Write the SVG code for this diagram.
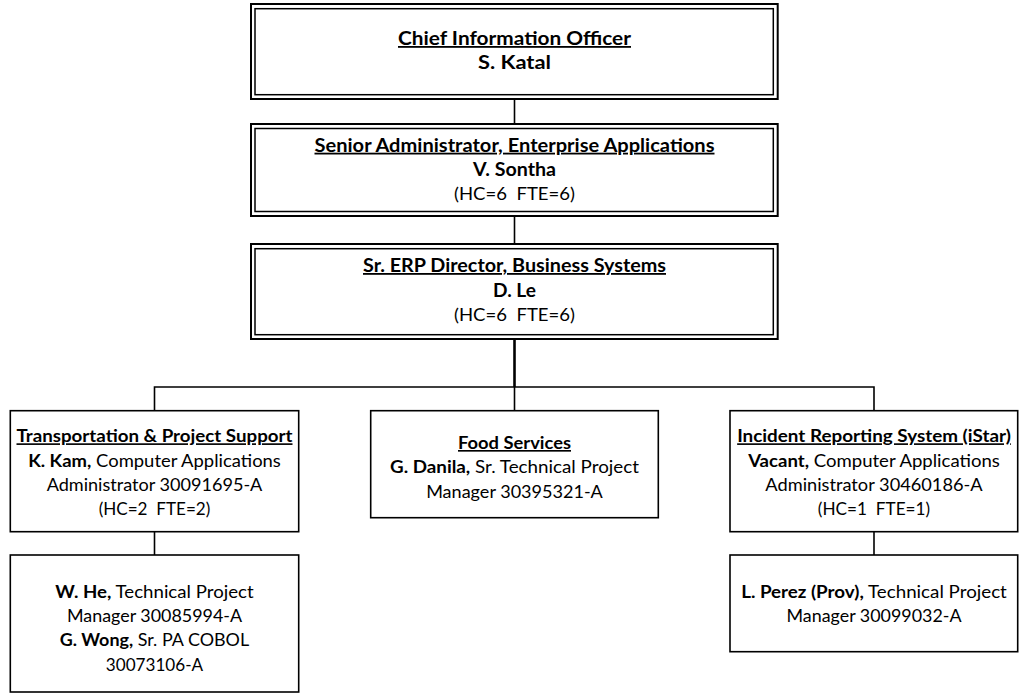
<svg xmlns="http://www.w3.org/2000/svg" width="1019" height="699" viewBox="0 0 1019 699">
<style>
.bg{fill:#ffffff}
.outer{fill:#ffffff;stroke:#000;stroke-width:2}
.inner{fill:none;stroke:#000;stroke-width:1.5}
.box{fill:#ffffff;stroke:#000;stroke-width:1.6}
.conn{fill:none;stroke:#000;stroke-width:1.6}
.thick{fill:none;stroke:#000;stroke-width:2.6}
text{font-family:Lato,"Liberation Sans",sans-serif;fill:#000;text-anchor:middle;white-space:pre}
.t1{font-size:18px}
.t2{font-size:16.5px}
.b{font-weight:bold}
.u{text-decoration:underline}
</style>
<rect class="bg" x="0" y="0" width="1019" height="699"/>
<g id="connectors">
<path class="conn" d="M514.5 99 V124"/>
<path class="conn" d="M514.5 216 V244"/>
<path class="thick" d="M514.5 339 V387"/>
<path class="conn" d="M154.5 410.7 V387 H874 V410.7"/>
<path class="conn" d="M514.5 387 V410.7"/>
<path class="conn" d="M154.5 531.7 V555"/>
<path class="conn" d="M874 531.7 V555"/>
</g>
<g id="cio">
<rect class="outer" x="251" y="4" width="526.7" height="95"/>
<rect class="inner" x="255" y="8.7" width="518.3" height="86"/>
<text class="t1 b u" x="514.5" y="45" textLength="233" lengthAdjust="spacingAndGlyphs">Chief Information Officer</text>
<text class="t1 b" x="514.5" y="69.3" textLength="73" lengthAdjust="spacingAndGlyphs">S. Katal</text>
</g>
<g id="senior-admin">
<rect class="outer" x="251" y="124" width="526.7" height="92"/>
<rect class="inner" x="255" y="128.5" width="518.3" height="83"/>
<text class="t1 b u" x="514.5" y="151.7" textLength="400" lengthAdjust="spacingAndGlyphs">Senior Administrator, Enterprise Applications</text>
<text class="t1 b" x="514.5" y="176" textLength="83" lengthAdjust="spacingAndGlyphs">V. Sontha</text>
<text class="t1" x="514.5" y="200.3" textLength="121" lengthAdjust="spacingAndGlyphs">(HC=6  FTE=6)</text>
</g>
<g id="erp-director">
<rect class="outer" x="251" y="244" width="526.7" height="95"/>
<rect class="inner" x="255" y="248.7" width="518.3" height="86"/>
<text class="t1 b u" x="514.5" y="272" textLength="303" lengthAdjust="spacingAndGlyphs">Sr. ERP Director, Business Systems</text>
<text class="t1 b" x="514.5" y="296.5" textLength="43" lengthAdjust="spacingAndGlyphs">D. Le</text>
<text class="t1" x="514.5" y="321" textLength="121" lengthAdjust="spacingAndGlyphs">(HC=6  FTE=6)</text>
</g>
<g id="transportation">
<rect class="box" x="10.3" y="410.7" width="288.4" height="121"/>
<text class="t2 b u" x="154.5" y="442.3" textLength="276" lengthAdjust="spacingAndGlyphs">Transportation &amp; Project Support</text>
<text class="t2" x="154.5" y="466.7" textLength="252.7" lengthAdjust="spacingAndGlyphs"><tspan class="b">K. Kam,</tspan> Computer Applications</text>
<text class="t2" x="154.5" y="491" textLength="215.7" lengthAdjust="spacingAndGlyphs">Administrator 30091695-A</text>
<text class="t2" x="154.5" y="515.3" textLength="111.7" lengthAdjust="spacingAndGlyphs">(HC=2  FTE=2)</text>
</g>
<g id="food-services">
<rect class="box" x="370.7" y="410.7" width="287.6" height="107"/>
<text class="t2 b u" x="514.5" y="449" textLength="113" lengthAdjust="spacingAndGlyphs">Food Services</text>
<text class="t2" x="514.5" y="473.3" textLength="249" lengthAdjust="spacingAndGlyphs"><tspan class="b">G. Danila,</tspan> Sr. Technical Project</text>
<text class="t2" x="514.5" y="497.6" textLength="176.7" lengthAdjust="spacingAndGlyphs">Manager 30395321-A</text>
</g>
<g id="incident-reporting">
<rect class="box" x="730" y="410.7" width="287.7" height="121"/>
<text class="t2 b u" x="874" y="442.3" textLength="273.7" lengthAdjust="spacingAndGlyphs">Incident Reporting System (iStar)</text>
<text class="t2" x="874" y="466.7" textLength="251.7" lengthAdjust="spacingAndGlyphs"><tspan class="b">Vacant,</tspan> Computer Applications</text>
<text class="t2" x="874" y="491" textLength="217.3" lengthAdjust="spacingAndGlyphs">Administrator 30460186-A</text>
<text class="t2" x="874" y="515.3" textLength="112.3" lengthAdjust="spacingAndGlyphs">(HC=1  FTE=1)</text>
</g>
<g id="he-wong">
<rect class="box" x="10.3" y="555" width="288.4" height="137"/>
<text class="t2" x="154.5" y="597.5" textLength="198.3" lengthAdjust="spacingAndGlyphs"><tspan class="b">W. He,</tspan> Technical Project</text>
<text class="t2" x="154.5" y="621.9" textLength="175" lengthAdjust="spacingAndGlyphs">Manager 30085994-A</text>
<text class="t2" x="154.5" y="646.3" textLength="189.3" lengthAdjust="spacingAndGlyphs"><tspan class="b">G. Wong,</tspan> Sr. PA COBOL</text>
<text class="t2" x="154.5" y="670.7" textLength="97.3" lengthAdjust="spacingAndGlyphs">30073106-A</text>
</g>
<g id="perez">
<rect class="box" x="730" y="555" width="287.7" height="96.7"/>
<text class="t2" x="874" y="597.7" textLength="265.7" lengthAdjust="spacingAndGlyphs"><tspan class="b">L. Perez (Prov),</tspan> Technical Project</text>
<text class="t2" x="874" y="622.3" textLength="175" lengthAdjust="spacingAndGlyphs">Manager 30099032-A</text>
</g>
</svg>
